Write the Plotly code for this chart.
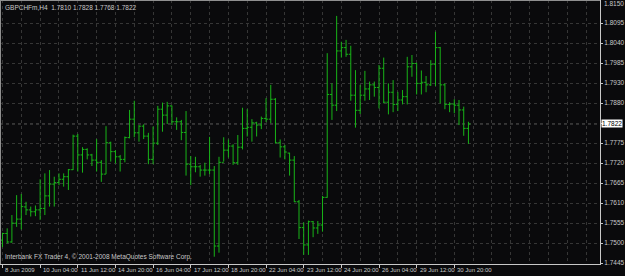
import plotly.graph_objects as go

# GBPCHFm H4 bars (8 Jun 2009 20:00 -> 1 Jul 2009 08:00)
opens = [1.7507,1.7525,1.7502,1.7553,1.7564,1.7597,1.7589,1.7584,1.7589,1.7593,
         1.7627,1.7659,1.7663,1.7672,1.7679,1.7698,1.7789,1.7738,1.7753,1.7738,
         1.7724,1.7718,1.7686,1.7771,1.7747,1.7733,1.7726,1.7785,1.7835,1.7798,
         1.7816,1.7789,1.7726,1.7770,1.7862,1.7846,1.7871,1.7828,1.7828,1.7799,
         1.7713,1.7706,1.7706,1.7697,1.7697,1.7697,1.7491,1.7718,1.7751,1.7762,
         1.7717,1.7759,1.7810,1.7813,1.7825,1.7819,1.7837,1.7835,1.7889,1.7771,
         1.7760,1.7743,1.7724,1.7611,1.7541,1.7494,1.7557,1.7540,1.7548,1.7623,
         1.7902,1.7873,1.8020,1.8029,1.8011,1.7900,1.7859,1.7900,1.7917,1.7928,
         1.7921,1.7973,1.7881,1.7908,1.7875,1.7887,1.7896,1.7977,1.7986,1.7932,
         1.7935,1.7928,1.7984,1.8029,1.7928,1.7875,1.7876,1.7873,1.7860,1.7810]
highs = [1.7527,1.7539,1.7575,1.7629,1.7632,1.7611,1.7598,1.7601,1.7672,1.7688,
         1.7697,1.7679,1.7688,1.7688,1.7700,1.7793,1.7795,1.7759,1.7756,1.7741,
         1.7781,1.7724,1.7816,1.7774,1.7751,1.7738,1.7788,1.7860,1.7885,1.7819,
         1.7821,1.7798,1.7815,1.7871,1.7880,1.7882,1.7872,1.7840,1.7833,1.7857,
         1.7735,1.7733,1.7711,1.7717,1.7787,1.7708,1.7733,1.7786,1.7780,1.7767,
         1.7792,1.7866,1.7862,1.7835,1.7828,1.7842,1.7892,1.7928,1.7892,1.7780,
         1.7765,1.7744,1.7735,1.7616,1.7555,1.7560,1.7559,1.7559,1.7627,1.8014,
         1.7932,1.8115,1.8045,1.8050,1.8034,1.7968,1.7928,1.7966,1.7937,1.7937,
         1.7982,1.8002,1.7932,1.7941,1.7909,1.7914,1.8004,1.8009,1.7988,1.7967,
         1.7952,1.7995,1.8072,1.8031,1.7932,1.7881,1.7889,1.7887,1.7869,1.7828]
lows = [1.7488,1.7498,1.7500,1.7543,1.7536,1.7575,1.7571,1.7572,1.7562,1.7575,
        1.7598,1.7598,1.7656,1.7652,1.7643,1.7697,1.7693,1.7690,1.7726,1.7708,
        1.7693,1.7665,1.7686,1.7720,1.7715,1.7693,1.7718,1.7783,1.7786,1.7774,
        1.7781,1.7713,1.7713,1.7765,1.7801,1.7822,1.7819,1.7806,1.7778,1.7682,
        1.7656,1.7691,1.7679,1.7682,1.7686,1.7462,1.7473,1.7720,1.7731,1.7711,
        1.7711,1.7753,1.7788,1.7774,1.7788,1.7808,1.7827,1.7824,1.7769,1.7731,
        1.7726,1.7682,1.7610,1.7510,1.7467,1.7467,1.7515,1.7524,1.7530,1.7622,
        1.7833,1.7857,1.8002,1.8004,1.7885,1.7812,1.7849,1.7885,1.7887,1.7896,
        1.7864,1.7878,1.7848,1.7854,1.7857,1.7875,1.7875,1.7950,1.7902,1.7902,
        1.7908,1.7925,1.7925,1.7878,1.7862,1.7854,1.7851,1.7819,1.7790,1.7768]
closes = [1.7525,1.7502,1.7553,1.7564,1.7598,1.7589,1.7584,1.7589,1.7593,1.7627,
          1.7659,1.7663,1.7672,1.7679,1.7698,1.7789,1.7738,1.7753,1.7738,1.7724,
          1.7718,1.7686,1.7771,1.7747,1.7733,1.7726,1.7785,1.7835,1.7798,1.7816,
          1.7789,1.7726,1.7770,1.7862,1.7846,1.7871,1.7828,1.7828,1.7799,1.7713,
          1.7706,1.7706,1.7697,1.7697,1.7697,1.7491,1.7718,1.7751,1.7762,1.7717,
          1.7759,1.7810,1.7813,1.7825,1.7819,1.7837,1.7835,1.7889,1.7771,1.7760,
          1.7746,1.7724,1.7611,1.7541,1.7494,1.7557,1.7540,1.7548,1.7623,1.7902,
          1.7873,1.8020,1.8029,1.8011,1.7900,1.7859,1.7900,1.7917,1.7928,1.7921,
          1.7973,1.7881,1.7908,1.7875,1.7887,1.7896,1.7977,1.7986,1.7932,1.7935,
          1.7928,1.7984,1.8029,1.7928,1.7875,1.7876,1.7873,1.7860,1.7810,1.7822]

time_labels = ["8 Jun 2009", "10 Jun 04:00", "11 Jun 12:00", "14 Jun 20:00", "16 Jun 04:00",
               "17 Jun 12:00", "18 Jun 20:00", "22 Jun 04:00", "23 Jun 12:00", "24 Jun 20:00",
               "26 Jun 04:00", "29 Jun 12:00", "30 Jun 20:00"]
time_label_bars = [0, 8, 16, 24, 32, 40, 48, 56, 64, 72, 80, 88, 96]

price_labels = ["1.7445", "1.7500", "1.7555", "1.7610", "1.7665", "1.7720", "1.7775", "",
                "1.7880", "1.7930", "1.7985", "1.8040", "1.8095", "1.8150"]
price_min, price_max = 1.7445, 1.8150

title_text = "GBPCHFm,H4  1.7810 1.7828 1.7768 1.7822"
footer_text = "Interbank FX Trader 4, \u00a9 2001-2008 MetaQuotes Software Corp."
bid = closes[-1]

FG = "#c8c8c8"
BAR = "rgb(24,180,24)"
GRID = "#363636"
FONT = "Liberation Sans"

n = len(opens)
xs = list(range(n))
step = (price_max - price_min) / (len(price_labels) - 1)
price_vals = [price_min + k * step for k in range(len(price_labels))]

fig = go.Figure()
fig.add_trace(go.Ohlc(
    x=xs, open=opens, high=highs, low=lows, close=closes,
    increasing=dict(line=dict(color=BAR, width=1)),
    decreasing=dict(line=dict(color=BAR, width=1)),
    tickwidth=0.42, hoverinfo="skip", showlegend=False,
))

W, H = 625, 276
ml, mt, mr, mb = 0, 0, 22, 12
pw = W - ml - mr
px_per_bar = 4.73
x0 = -2.5 / px_per_bar
x1 = x0 + pw / px_per_bar
ph = H - mt - mb
ppu = 3688.0
y_top = price_max + 3 / ppu
y_bot = y_top - ph / ppu

fig.update_layout(
    width=W, height=H,
    margin=dict(l=ml, r=mr, t=mt, b=mb, pad=0),
    paper_bgcolor="#0a0a0c", plot_bgcolor="#0a0a0c",
    font=dict(family=FONT, size=6, color=FG),
    xaxis=dict(
        range=[x0, x1], rangeslider=dict(visible=False),
        tickvals=time_label_bars, ticktext=[""] * len(time_label_bars),
        ticks="outside", ticklen=3, tickcolor=FG, tickwidth=1,
        showgrid=True, gridcolor=GRID, griddash="dot", gridwidth=1,
        minor=dict(dtick=4, tick0=0, showgrid=True, gridcolor=GRID, griddash="dot", ticks=""),
        showline=True, linecolor=FG, linewidth=1, zeroline=False, fixedrange=True,
    ),
    yaxis=dict(
        range=[y_bot, y_top], side="right",
        tickvals=price_vals[:-1], ticktext=price_labels[:-1],
        ticks="outside", ticklen=2, tickcolor=FG,
        tickfont=dict(family=FONT, size=6.5, color=FG),
        showgrid=True, gridcolor=GRID, griddash="dot", gridwidth=1,
        showline=True, linecolor=FG, linewidth=1, zeroline=False, fixedrange=True,
    ),
)

annotations = []
for b, t in zip(time_label_bars, time_labels):
    annotations.append(dict(x=b, y=0, xref="x", yref="paper", text=t, showarrow=False,
                            xanchor="left", yanchor="top", xshift=1, yshift=-1,
                            font=dict(family=FONT, size=6, color=FG)))
annotations.append(dict(x=1, y=price_vals[-1], xref="paper", yref="y", text=price_labels[-1],
                        showarrow=False, xanchor="left", yanchor="middle", xshift=2,
                        font=dict(family=FONT, size=6.5, color=FG)))
annotations.append(dict(x=0, y=1, xref="paper", yref="paper", text=title_text, showarrow=False,
                        xanchor="left", yanchor="top", xshift=3, yshift=-2,
                        font=dict(family=FONT, size=6.5, color=FG)))
annotations.append(dict(x=0, y=0, xref="paper", yref="paper", text=footer_text, showarrow=False,
                        xanchor="left", yanchor="bottom", xshift=3, yshift=1,
                        font=dict(family=FONT, size=6.5, color=FG)))
annotations.append(dict(x=1, y=bid, xref="paper", yref="y", text=str(bid), showarrow=False,
                        xanchor="left", yanchor="middle", xshift=1, bgcolor="#ffffff",
                        borderpad=0, font=dict(family=FONT, size=6.5, color="#000000")))
fig.update_layout(annotations=annotations)

fig.add_shape(type="line", xref="paper", yref="y", x0=0, x1=1, y0=bid, y1=bid,
              line=dict(color="#5a5a5a", width=1, dash="dot"), layer="below")
fig.add_shape(type="line", xref="paper", yref="paper", x0=0, x1=0, y0=0, y1=1,
              line=dict(color="#909090", width=2))
fig.add_shape(type="line", xref="paper", yref="paper", x0=0, x1=1, y0=1, y1=1,
              line=dict(color="#909090", width=2))

fig.write_html("out.html")
